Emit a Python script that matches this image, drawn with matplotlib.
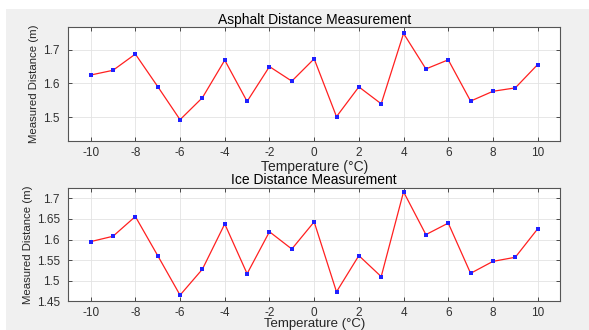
import matplotlib
matplotlib.use("Agg")
import matplotlib.pyplot as plt
from matplotlib.patches import Rectangle

temperature = [-10, -9, -8, -7, -6, -5, -4, -3, -2, -1, 0, 1, 2, 3, 4, 5, 6, 7, 8, 9, 10]
asphalt = [1.625, 1.639, 1.687, 1.591, 1.493, 1.558, 1.669, 1.547, 1.650, 1.607, 1.673,
           1.502, 1.590, 1.540, 1.748, 1.643, 1.670, 1.548, 1.577, 1.587, 1.656]
ice = [1.595, 1.608, 1.656, 1.561, 1.465, 1.528, 1.638, 1.517, 1.619, 1.577, 1.643,
       1.473, 1.561, 1.510, 1.716, 1.612, 1.640, 1.518, 1.547, 1.557, 1.626]
xticks = [-10, -8, -6, -4, -2, 0, 2, 4, 6, 8, 10]
asphalt_yticks = [1.5, 1.6, 1.7]
ice_yticks = [1.45, 1.5, 1.55, 1.6, 1.65, 1.7]
ice_yticklabels = ["1.45", "1.5", "1.55", "1.6", "1.65", "1.7"]

plt.rcParams['font.family'] = ['Liberation Sans', 'DejaVu Sans']

W, H = 589, 330
fig = plt.figure(figsize=(W / 100, H / 100), dpi=100, facecolor='white')
fig.patches.append(Rectangle((6 / W, 0), 1, (H - 9) / H, transform=fig.transFigure,
                             facecolor='#f0f0f0', edgecolor='none', zorder=-10))

ax1 = fig.add_axes([68.3 / W, 1 - 141 / H, (560 - 68.3) / W, (141 - 27) / H])
ax2 = fig.add_axes([68.3 / W, 1 - 301.3 / H, (560 - 68.3) / W, (301.3 - 187.7) / H])

configs = [
    (ax1, asphalt, 'Asphalt Distance Measurement', (1.43, 1.767), asphalt_yticks, None, 1),
    (ax2, ice, 'Ice Distance Measurement', (1.45, 1.726), ice_yticks, ice_yticklabels, -0.5),
]

for ax, vals, title, ylim, yt, ytl, lp in configs:
    ax.set_facecolor('white')
    ax.plot(temperature, vals, '-', color='#ff2020', lw=0.9, zorder=3)
    ax.plot(temperature, vals, 's', color='#2020ff', ms=2.2, mew=0, zorder=4)
    ax.set_xlim(-11, 11)
    ax.set_ylim(*ylim)
    ax.set_xticks(xticks)
    ax.set_xticklabels([str(t) for t in xticks])
    ax.set_yticks(yt)
    if ytl is not None:
        ax.set_yticklabels(ytl)
    ax.grid(True, color='#e3e3e3', lw=0.6)
    ax.set_axisbelow(True)
    ax.tick_params(direction='in', length=3, width=0.6, top=True, right=True,
                   colors='#303030', labelsize=8.5)
    ax.tick_params(axis='x', pad=4)
    ax.tick_params(axis='y', pad=6)
    for s in ax.spines.values():
        s.set_color('#555555')
        s.set_linewidth(0.8)
    ax.set_title(title, fontsize=10, color='black', pad=2.5)
    ax.set_xlabel('Temperature (°C)', fontsize=10 if lp > 0 else 9.5,
                  color='#262626', labelpad=lp)
    ax.set_ylabel('Measured Distance (m)', fontsize=8.2, color='#262626', labelpad=3)

fig.savefig('out.png', dpi=100, facecolor=fig.get_facecolor())
